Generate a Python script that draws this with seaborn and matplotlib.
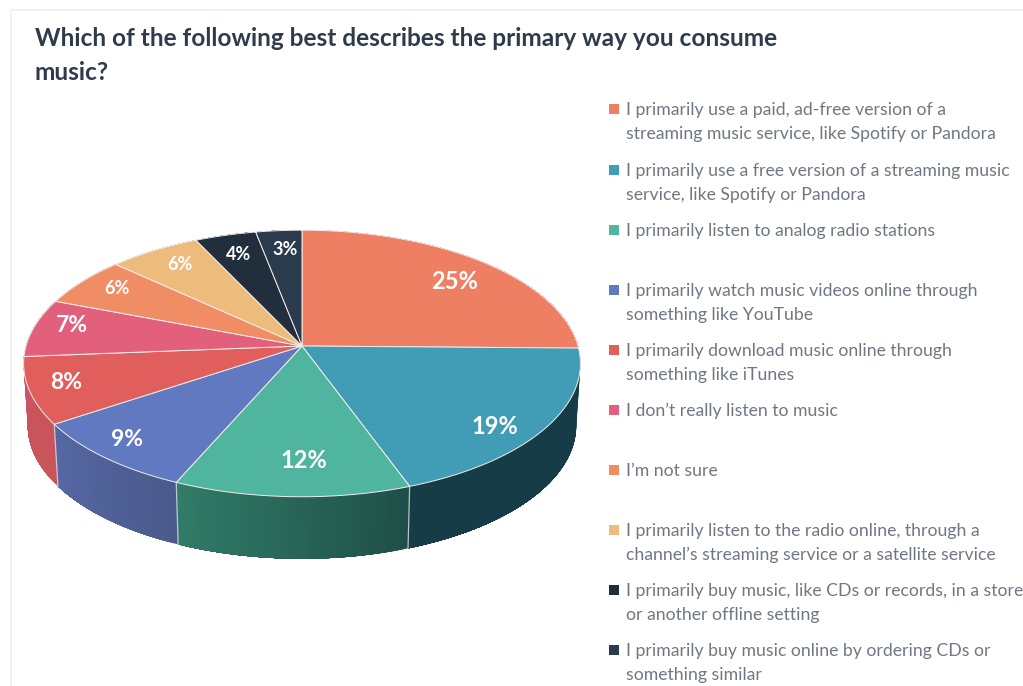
import numpy as np
import pandas as pd
import seaborn as sns
import matplotlib
matplotlib.use("Agg")
import matplotlib.pyplot as plt
from matplotlib.patches import Polygon

title = "Which of the following best describes the primary way you consume\nmusic?"
answers = [
    "I primarily use a paid, ad-free version of a\nstreaming music service, like Spotify or Pandora",
    "I primarily use a free version of a streaming music\nservice, like Spotify or Pandora",
    "I primarily listen to analog radio stations",
    "I primarily watch music videos online through\nsomething like YouTube",
    "I primarily download music online through\nsomething like iTunes",
    "I don\u2019t really listen to music",
    "I\u2019m not sure",
    "I primarily listen to the radio online, through a\nchannel\u2019s streaming service or a satellite service",
    "I primarily buy music, like CDs or records, in a store\nor another offline setting",
    "I primarily buy music online by ordering CDs or\nsomething similar",
]
shares = [25, 19, 12, 9, 8, 7, 6, 6, 4, 3]
face_colors = ["#EE7F63", "#409DB5", "#50B59F", "#6079C1", "#E05E5C",
               "#E2607C", "#F18D64", "#EDBB7B", "#212F3D", "#2A3B4E"]
side_start = ["#A85A46", "#163C48", "#1F4F48", "#4A5A8C", "#C9545A",
              "#C9546C", "#C07050", "#C09868", "#182430", "#202E3C"]
side_end = ["#A85A46", "#163C48", "#317C68", "#5668A5", "#C9545A",
            "#C9546C", "#C07050", "#C09868", "#182430", "#202E3C"]
label_sizes = [17, 17, 17, 16.5, 16.5, 16.5, 13, 13, 13, 13]
label_nudge = [(-3, 8), (-11, 11), (10, -11), (-10, 0), (-6, -1),
               (-2, -5), (3, -2), (6, 1), (3, 4), (3, 3)]
legend_rows = [109, 170, 230, 290, 350, 410, 470, 530, 590, 650]

sns.set_theme(style="white")
plt.rcParams["font.family"] = ["Lato", "DejaVu Sans"]

CX, CY = 302.0, 346.0      # pie centre in canvas pixels
RX, RY = 276.0, 131.0      # projected radii
TILT = 0.131               # perspective strength of the disc
DEPTH = 62.0               # height of the extruded side
FOOT = 0.985               # lower rim is slightly narrower


def project(theta, r=1.0, lower=False):
    """Map a clockwise-from-top angle on the disc to canvas pixels."""
    u, v = r * np.sin(theta), -r * np.cos(theta)
    w = 1 - TILT * v
    x, y = RX * u / w, RY * v / w
    if lower:
        return CX + FOOT * x, CY + y + DEPTH
    return CX + x, CY + y


fig = plt.figure(figsize=(10.23, 6.86), dpi=100)
ax = fig.add_axes([0, 0, 1, 1])
ax.set_xlim(0, 1023)
ax.set_ylim(686, 0)
ax.axis("off")

# card outline
ax.plot([1023, 11, 11], [10, 10, 686], color="#EEEFF0", lw=1.2, zorder=0)

edges = np.cumsum([0] + shares) / sum(shares) * 2 * np.pi

# extruded side, drawn first so the top face hides the back half;
# each step repaints the rest of the panel to give a seamless gradient
for i in range(len(shares)):
    steps = np.linspace(edges[i], edges[i + 1], 41)
    c0 = np.array(matplotlib.colors.to_rgb(side_start[i]))
    c1 = np.array(matplotlib.colors.to_rgb(side_end[i]))
    for j in range(40):
        rest = steps[j:]
        tx, ty = project(rest)
        bx, by = project(rest, lower=True)
        col = c0 + (c1 - c0) * j / 39
        ax.add_patch(Polygon(np.c_[np.r_[tx, bx[::-1]], np.r_[ty, by[::-1]]],
                             facecolor=col, edgecolor="none", zorder=2))

# seams between the side panels on the front of the pie
for a in edges[2:5]:
    tx, ty = project(a)
    bx, by = project(a, lower=True)
    ax.plot([tx, bx], [ty, by], color="#DDE3E2", lw=0.9, alpha=0.8, zorder=3)

# top face
for i in range(len(shares)):
    t = np.linspace(edges[i], edges[i + 1], 80)
    x, y = project(t)
    pts = np.c_[np.r_[CX, x], np.r_[CY, y]]
    ax.add_patch(Polygon(pts, facecolor=face_colors[i], edgecolor="#F3EDEA",
                         lw=0.7, joinstyle="round", zorder=4))

# percentage labels
for i, v in enumerate(shares):
    mid = (edges[i] + edges[i + 1]) / 2
    x, y = project(mid, r=0.85)
    dx, dy = label_nudge[i]
    ax.text(x + dx, y + dy, f"{v}%", color="white", ha="center", va="center",
            fontsize=label_sizes[i], fontweight="bold", zorder=5)

ax.text(35, 55.5, title, fontsize=17.6, fontweight="bold", color="#2D3B4A",
        va="center", ha="left", linespacing=1.6)

# legend swatches and text
swatches = pd.DataFrame({"x": [614] * len(answers), "y": legend_rows, "answer": answers})
sns.scatterplot(data=swatches, x="x", y="y", hue="answer", hue_order=answers,
                palette=face_colors, marker="s", s=42, edgecolor="none",
                legend=False, ax=ax, zorder=5, clip_on=False)
ax.set_xlim(0, 1023)
ax.set_ylim(686, 0)
ax.axis("off")
for row, text in zip(legend_rows, answers):
    ax.text(626, row - 7, text, fontsize=12.7, color="#6F7882", va="top", ha="left",
            linespacing=1.6)

fig.savefig("out.png", dpi=100, facecolor="white")
